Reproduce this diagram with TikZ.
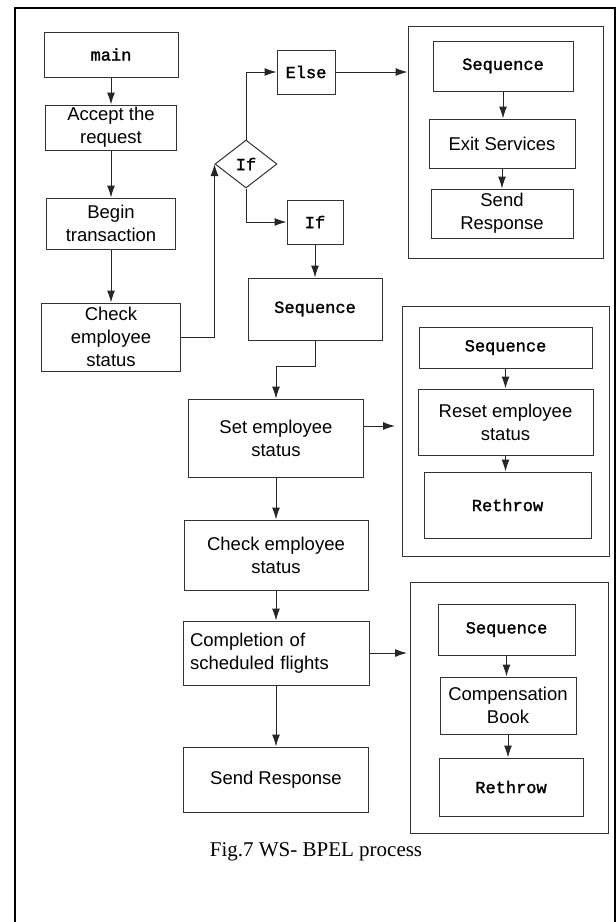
\documentclass[tikz,border=0pt]{standalone}
\usepackage{fontspec}
\setmainfont{Liberation Serif}
\newfontfamily\sansf{Liberation Sans}
\newfontfamily\monof[FakeBold=1.5]{Liberation Mono}
\usetikzlibrary{shapes.geometric,arrows.meta}
\begin{document}
\begin{tikzpicture}[x=1pt,y=-1pt]
\tikzset{bloc/.style={draw=black!80, line width=1pt, inner sep=0pt, align=center,
    font=\sansf\fontsize{18.5}{23}\selectfont},
  blocmono/.style={bloc, font=\monof\fontsize{17}{20}\selectfont},
  cadre/.style={draw=black!80, line width=1pt, inner sep=0pt},
  fleche/.style={-{Latex[length=12pt,width=8pt]}, line width=1pt, draw=black!85}}
\useasboundingbox (0,0) rectangle (616,922);
\draw[line width=1.6pt] (15,922) -- (15,8) -- (615,8) -- (615,922);
% colonne de gauche
\node[blocmono, minimum width=134pt, minimum height=45pt] (main) at (111,54.5) {main};
\node[bloc, minimum width=131pt, minimum height=45pt] (accept) at (111,127.5) {Accept the\\request};
\node[bloc, minimum width=129pt, minimum height=51pt] (begin) at (111,223.5) {Begin\\transaction};
\node[bloc, minimum width=139pt, minimum height=68pt] (check) at (111,337) {Check\\employee\\status};
\node[blocmono, diamond, minimum width=62pt, minimum height=48pt] (iff) at (246,164) {If};
\node[blocmono, minimum width=58pt, minimum height=44pt] (else) at (306,72) {Else};
\node[blocmono, minimum width=56pt, minimum height=44pt] (ifb) at (315,222) {If};
% colonne du milieu
\node[blocmono, minimum width=134pt, minimum height=62pt] (seq) at (315,309) {Sequence};
\node[bloc, minimum width=175pt, minimum height=78pt] (set) at (276,438) {Set employee\\status};
\node[bloc, minimum width=184pt, minimum height=70pt] (check2) at (276,555) {Check employee\\status};
\node[bloc, minimum width=186pt, minimum height=64pt, text width=172pt, align=left] (compl) at (276,653) {Completion of\\scheduled flights};
\node[bloc, minimum width=185pt, minimum height=65pt] (send) at (276,779.5) {Send Response};
% groupes de droite
\node[cadre, minimum width=195pt, minimum height=232pt] (g1) at (505.5,142) {};
\node[blocmono, minimum width=140pt, minimum height=50pt] (seqA) at (503,66) {Sequence};
\node[bloc, minimum width=146pt, minimum height=49pt] (exitA) at (502,143.5) {Exit Services};
\node[bloc, minimum width=142pt, minimum height=49pt] (sendA) at (502,213.5) {Send\\Response};
\node[cadre, minimum width=207pt, minimum height=250pt] (g2) at (505.5,431) {};
\node[blocmono, minimum width=173pt, minimum height=41pt] (seqB) at (505.5,347.5) {Sequence};
\node[bloc, minimum width=175pt, minimum height=66pt] (resetB) at (505.5,422) {Reset employee\\status};
\node[blocmono, minimum width=167pt, minimum height=66pt] (rethB) at (507.5,505) {Rethrow};
\node[cadre, minimum width=198pt, minimum height=251pt] (g3) at (509,707.5) {};
\node[blocmono, minimum width=137pt, minimum height=51pt] (seqC) at (506.5,629.5) {Sequence};
\node[bloc, minimum width=136pt, minimum height=57pt] (compC) at (508,705.5) {Compensation\\Book};
\node[blocmono, minimum width=144pt, minimum height=58pt] (rethC) at (511,787) {Rethrow};
\node[font=\fontsize{21}{25}\selectfont] (legende) at (316,852) {Fig.7 WS- BPEL process};
\coordinate (setfin) at (395,426);
\coordinate (complfin) at (407,653);
% fleches
\draw[fleche] (main) -- (accept);
\draw[fleche] (accept) -- (begin);
\draw[fleche] (begin) -- (check);
\draw[fleche] (check.east) -| (iff.west);
\draw[fleche] (iff.north) |- (else.west);
\draw[fleche] (iff.south) |- (ifb.west);
\draw[fleche] (else.east) -- (else.east -| g1.west);
\draw[fleche] (seqA.south) -- (seqA.south |- exitA.north);
\draw[fleche] (exitA.south) -- (exitA.south |- sendA.north);
\draw[fleche] (ifb) -- (seq);
\draw[fleche] (seq.south) -- ++(0,26) -| (set.north);
\draw[fleche] (set.east |- setfin) -- (setfin);
\draw[fleche] (seqB.south) -- (seqB.south |- resetB.north);
\draw[fleche] (resetB.south) -- (resetB.south |- rethB.north);
\draw[fleche] (set) -- (check2);
\draw[fleche] (check2) -- (compl);
\draw[fleche] (compl) -- (send);
\draw[fleche] (compl.east) -- (complfin);
\draw[fleche] (seqC.south) -- (seqC.south |- compC.north);
\draw[fleche] (compC.south) -- (compC.south |- rethC.north);
\end{tikzpicture}
\end{document}
